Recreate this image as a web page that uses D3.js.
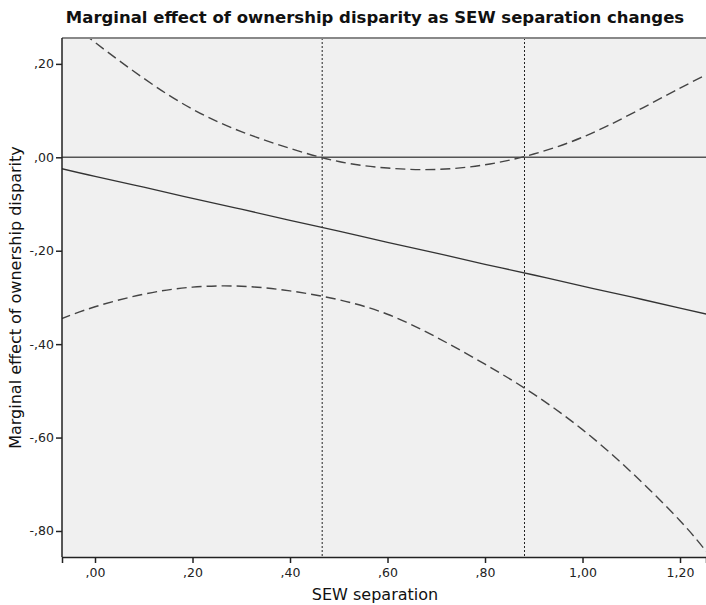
<!DOCTYPE html>
<html>
<head>
<meta charset="utf-8">
<script src="https://cdn.jsdelivr.net/npm/d3@7"></script>
<style>
  body { margin: 0; background: #fff; }
  text { font-family: "DejaVu Sans", Verdana, sans-serif; }
</style>
</head>
<body>
<script>
var w = 706;
var h = 605;

// values
var sew = [-0.07, 0.0, 0.1, 0.2, 0.3, 0.4, 0.5, 0.6, 0.7, 0.8, 0.9, 1.0, 1.1, 1.2, 1.26];
var effect = [-0.024, -0.041, -0.064, -0.088, -0.111, -0.135, -0.158, -0.182, -0.205, -0.229, -0.252, -0.276, -0.299, -0.323, -0.337];
var upper = [0.305, 0.246, 0.169, 0.103, 0.055, 0.019, -0.009, -0.023, -0.026, -0.016, 0.007, 0.043, 0.093, 0.148, 0.180];
var lower = [-0.346, -0.320, -0.293, -0.278, -0.276, -0.286, -0.305, -0.336, -0.385, -0.443, -0.507, -0.583, -0.674, -0.778, -0.852];
var crossings = [0.466, 0.881];
var xTicks = [0, 0.2, 0.4, 0.6, 0.8, 1.0, 1.2];
var yTicks = [0.2, 0, -0.2, -0.4, -0.6, -0.8];

var pLeft = 62, pTop = 38, pRight = 706, pBottom = 557;

var svg = d3.select("body").append("svg")
  .attr("width", w)
  .attr("height", h);

var x = d3.scaleLinear()
  .domain([-0.0677, 1.2533])
  .range([pLeft, pRight]);
var y = d3.scaleLinear()
  .domain([-0.8557, 0.2554])
  .range([pBottom, pTop]);

// spss style numbers: ,20  -,20  1,00
function fmt(v) {
  var s = Math.abs(v).toFixed(2).replace(".", ",");
  if (s.charAt(0) == "0") s = s.slice(1);
  return (v < -1e-9 ? "-" : "") + s;
}

svg.append("defs").append("clipPath")
  .attr("id", "plot")
  .append("rect")
  .attr("x", pLeft).attr("y", pTop)
  .attr("width", pRight - pLeft).attr("height", pBottom - pTop);

svg.append("rect")
  .attr("x", pLeft).attr("y", pTop)
  .attr("width", pRight - pLeft + 2).attr("height", pBottom - pTop)
  .attr("fill", "#f0f0f0");

var g = svg.append("g").attr("clip-path", "url(#plot)");

// zero reference line
g.append("line")
  .attr("x1", pLeft).attr("x2", pRight)
  .attr("y1", y(0)).attr("y2", y(0))
  .attr("stroke", "#555")
  .attr("stroke-width", 1.5);

// dotted verticals where the band crosses zero
g.selectAll(".cross")
  .data(crossings)
  .join("line")
  .attr("class", "cross")
  .attr("x1", d => x(d)).attr("x2", d => x(d))
  .attr("y1", pTop).attr("y2", pBottom)
  .attr("stroke", "#222")
  .attr("stroke-width", 1)
  .attr("stroke-dasharray", "2,2");

var pts = sew.map(function (s, i) {
  return { s: s, e: effect[i], u: upper[i], l: lower[i] };
});

function lineFor(key) {
  return d3.line()
    .x(d => x(d.s))
    .y(d => y(d[key]))
    .curve(d3.curveNatural);
}

g.append("path")
  .datum(pts)
  .attr("d", lineFor("e"))
  .attr("fill", "none")
  .attr("stroke", "#333")
  .attr("stroke-width", 1.3);

["u", "l"].forEach(function (k) {
  g.append("path")
    .datum(pts)
    .attr("d", lineFor(k))
    .attr("fill", "none")
    .attr("stroke", "#444")
    .attr("stroke-width", 1.4)
    .attr("stroke-dasharray", "10,5");
});

// frame: top border in grey
svg.append("line")
  .attr("x1", pLeft).attr("x2", w)
  .attr("y1", pTop).attr("y2", pTop)
  .attr("stroke", "#888")
  .attr("stroke-width", 2);

var xAxis = svg.append("g")
  .attr("transform", "translate(0," + pBottom + ")")
  .call(d3.axisBottom(x).tickValues(xTicks).tickFormat(fmt).tickSizeOuter(0).tickSize(6).tickPadding(5));
var yAxis = svg.append("g")
  .attr("transform", "translate(" + pLeft + ",0)")
  .call(d3.axisLeft(y).tickValues(yTicks).tickFormat(fmt).tickSizeOuter(0).tickSize(6).tickPadding(2));

[xAxis, yAxis].forEach(function (a) {
  a.select(".domain").attr("stroke", "#222").attr("stroke-width", 1.5);
  a.selectAll(".tick line").attr("stroke", "#222").attr("stroke-width", 1.5);
  a.selectAll(".tick text")
    .attr("font-family", "DejaVu Sans, sans-serif")
    .attr("font-size", 12.5)
    .attr("fill", "#222");
});
yAxis.select(".domain").attr("d", "M0," + pTop + "V" + pBottom);

svg.append("text")
  .attr("x", 375).attr("y", 23)
  .attr("text-anchor", "middle")
  .attr("font-size", 16.5)
  .attr("font-weight", "bold")
  .attr("fill", "#111")
  .text("Marginal effect of ownership disparity as SEW separation changes");

svg.append("text")
  .attr("x", 375).attr("y", 600)
  .attr("text-anchor", "middle")
  .attr("font-size", 16)
  .attr("fill", "#111")
  .text("SEW separation");

svg.append("text")
  .attr("transform", "translate(21," + ((pTop + pBottom) / 2) + ") rotate(-90)")
  .attr("text-anchor", "middle")
  .attr("font-size", 16)
  .attr("fill", "#111")
  .text("Marginal effect of ownership disparity");
</script>
</body>
</html>
